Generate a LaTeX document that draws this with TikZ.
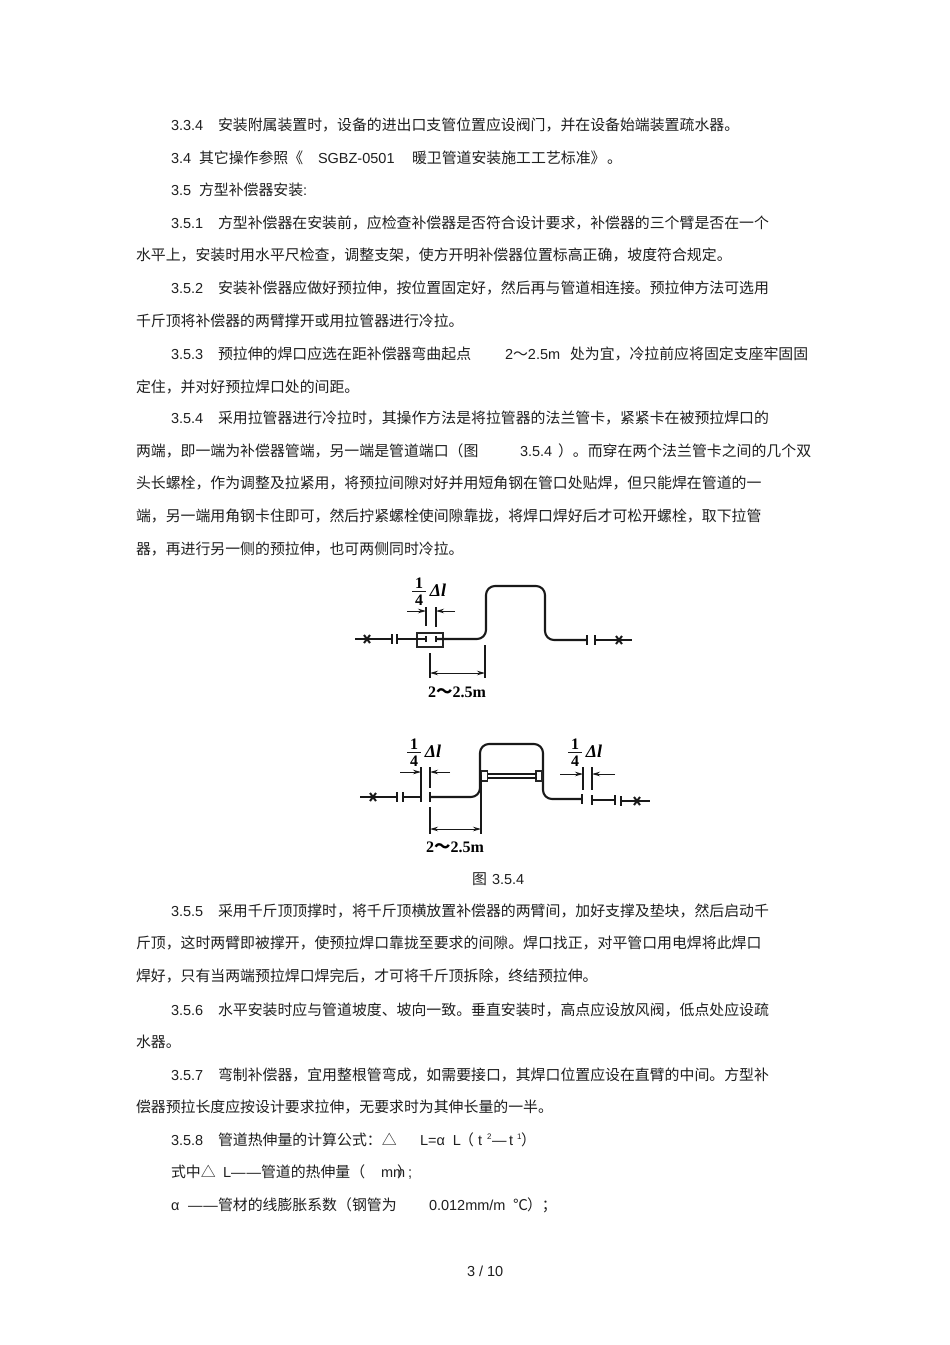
\documentclass[tikz,border=0pt]{standalone}
\usepackage{fontspec}
\setmainfont{Liberation Sans}
\newfontfamily\cjk[Scale=1.027]{Noto Sans CJK SC}
\newfontfamily\dserif{Liberation Serif}
\newcommand{\zh}[1]{{\cjk #1}}
\usetikzlibrary{arrows.meta}
\tikzset{
  txt/.style={anchor=base west,inner sep=0pt,outer sep=0pt,text=black!88,font=\fontsize{14.5}{16}\selectfont},
  dimtxt/.style={anchor=center,inner sep=0pt,outer sep=0pt,font=\dserif\bfseries\fontsize{16}{16}\selectfont},
  pipe/.style={line width=2.1pt,black!90,rounded corners=9pt},
  thinl/.style={line width=1.1pt,black!90},
  medl/.style={line width=1.5pt,black!90},
  dimarrow/.style={line width=1pt,black!90,-{Stealth[length=8pt,width=4.5pt]}},
  dimboth/.style={line width=1pt,black!90,{Stealth[length=8pt,width=4.5pt]}-{Stealth[length=8pt,width=4.5pt]}},
  blockbox/.style={draw=black!85,line width=1.1pt,fill=white,inner sep=0pt,outer sep=0pt}
}
\newcommand{\TT}[4]{\node[txt] (#1) at (#2,#3+5) {#4};}
\newcommand{\xmk}[3]{\coordinate (#1) at (#2,#3);
  \draw[line width=2pt,black!90] ([shift={(-3,-4)}]#1) -- ([shift={(3,4)}]#1) ([shift={(-3,4)}]#1) -- ([shift={(3,-4)}]#1);}
\newcommand{\tk}[2]{\draw[thinl] (#1,#2-5) -- (#1,#2+5);}
\newcommand{\tks}[2]{\draw[thinl] (#1,#2-3) -- (#1,#2+3);}
\newcommand{\frc}[3]{\node[dimtxt] (#1a) at (#2,#3-8) {1};
  \node[dimtxt] (#1b) at (#2,#3+9) {4};
  \coordinate (#1l) at (#2-7,#3); \coordinate (#1r) at (#2+7,#3);
  \draw[line width=1pt,black!90] (#1l) -- (#1r);
  \node[dimtxt,anchor=center] (#1c) at (#2+19,#3-1) {\itshape\fontsize{18}{18}\selectfont Δl};}
\begin{document}
\begin{tikzpicture}[x=1pt,y=-1pt]
\useasboundingbox (0,0) rectangle (950,1345);
\fill[white] (0,0) rectangle (950,1345);
% body text
\TT{a1}{171}{125}{3.3.4}\TT{a2}{218}{125}{\zh{安装附属装置时，设备的进出口支管位置应设阀门，并在设备始端装置疏水器。}}
\TT{b1}{171}{158}{3.4}\TT{b2}{199}{158}{\zh{其它操作参照《}}\TT{b3}{318}{158}{SGBZ-0501}\TT{b4}{412}{158}{\zh{暖卫管道安装施工工艺标准》}}\TT{b5}{607}{158}{\zh{。}}
\TT{c1}{171}{190}{3.5}\TT{c2}{199}{190}{\zh{方型补偿器安装}:}
\TT{d1}{171}{223}{3.5.1}\TT{d2}{218}{223}{\zh{方型补偿器在安装前，应检查补偿器是否符合设计要求，补偿器的三个臂是否在一个}}
\TT{d3}{136}{255}{\zh{水平上，安装时用水平尺检查，调整支架，使方开明补偿器位置标高正确，坡度符合规定。}}
\TT{e1}{171}{288}{3.5.2}\TT{e2}{218}{288}{\zh{安装补偿器应做好预拉伸，按位置固定好，然后再与管道相连接。预拉伸方法可选用}}
\TT{e3}{136}{321}{\zh{千斤顶将补偿器的两臂撑开或用拉管器进行冷拉。}}
\TT{f1}{171}{354}{3.5.3}\TT{f2}{218}{354}{\zh{预拉伸的焊口应选在距补偿器弯曲起点}}\TT{f3}{505}{354}{2\zh{～}2.5m}\TT{f4}{570}{354}{\zh{处为宜，冷拉前应将固定支座牢固固}}
\TT{f5}{136}{387}{\zh{定住，并对好预拉焊口处的间距。}}
\TT{g1}{171}{418}{3.5.4}\TT{g2}{218}{418}{\zh{采用拉管器进行冷拉时，其操作方法是将拉管器的法兰管卡，紧紧卡在被预拉焊口的}}
\TT{g3}{136}{451}{\zh{两端，即一端为补偿器管端，另一端是管道端口（图}}\TT{g4}{520}{451}{3.5.4}\TT{g5}{558}{451}{\zh{）。而穿在两个法兰管卡之间的几个双}}
\TT{g6}{136}{483}{\zh{头长螺栓，作为调整及拉紧用，将预拉间隙对好并用短角钢在管口处贴焊，但只能焊在管道的一}}
\TT{g7}{136}{516}{\zh{端，另一端用角钢卡住即可，然后拧紧螺栓使间隙靠拢，将焊口焊好后才可松开螺栓，取下拉管}}
\TT{g8}{136}{549}{\zh{器，再进行另一侧的预拉伸，也可两侧同时冷拉。}}
\TT{cap1}{472}{879}{\zh{图}}\TT{cap2}{492}{879}{3.5.4}
\TT{h1}{171}{911}{3.5.5}\TT{h2}{218}{911}{\zh{采用千斤顶顶撑时，将千斤顶横放置补偿器的两臂间，加好支撑及垫块，然后启动千}}
\TT{h3}{136}{943}{\zh{斤顶，这时两臂即被撑开，使预拉焊口靠拢至要求的间隙。焊口找正，对平管口用电焊将此焊口}}
\TT{h4}{136}{976}{\zh{焊好，只有当两端预拉焊口焊完后，才可将千斤顶拆除，终结预拉伸。}}
\TT{i1}{171}{1010}{3.5.6}\TT{i2}{218}{1010}{\zh{水平安装时应与管道坡度、坡向一致。垂直安装时，高点应设放风阀，低点处应设疏}}
\TT{i3}{136}{1042}{\zh{水器。}}
\TT{j1}{171}{1075}{3.5.7}\TT{j2}{218}{1075}{\zh{弯制补偿器，宜用整根管弯成，如需要接口，其焊口位置应设在直臂的中间。方型补}}
\TT{j3}{136}{1107}{\zh{偿器预拉长度应按设计要求拉伸，无要求时为其伸长量的一半。}}
\TT{k1}{171}{1140}{3.5.8}\TT{k2}{218}{1140}{\zh{管道热伸量的计算公式：△}}\TT{k3}{420}{1140}{L=α\ \ L}\TT{k4}{459}{1140}{\zh{（}}\TT{k5}{478}{1140}{t}\TT{k6}{487}{1134}{\fontsize{8}{9}\selectfont 2}\TT{k7}{492}{1140}{—}\TT{k8}{509}{1140}{t}\TT{k9}{517}{1134}{\fontsize{8}{9}\selectfont 1}\TT{k10}{521}{1140}{\zh{）}}
\TT{l1}{171}{1172}{\zh{式中△}}\TT{l2}{223}{1172}{L—\hspace{1pt}—}\TT{l3}{261}{1172}{\zh{管道的热伸量（}}\TT{l4}{381}{1172}{mm}\TT{l5}{397}{1172}{\zh{）}}\TT{l6}{408}{1172}{;}
\TT{m1}{171}{1205}{α}\TT{m2}{188}{1205}{—\hspace{1pt}—}\TT{m3}{218}{1205}{\zh{管材的线膨胀系数（钢管为}}\TT{m4}{429}{1205}{0.012mm/m}\TT{m5}{513}{1205}{\zh{℃}}\TT{m6}{527}{1205}{\zh{）；}}
\TT{pg}{467}{1271}{3 / 10}
% ---------- figure 1
\xmk{x1}{367}{639}\xmk{x2}{619}{640}
\draw[medl] (355,639) -- (392,639); \tk{392}{639}
\tk{397}{639}
\node[blockbox,minimum width=26pt,minimum height=14pt] (box1) at (430,640) {};
\draw[medl] (397,639) -- (426,639); \tks{426}{639}
\tks{436}{639}
\draw[pipe] (436,639) -- (486,639) -- (486,586) -- (545,586) -- (545,640) -- (587,640);
\tk{587}{640}
\tk{595}{640}
\draw[medl] (595,640) -- (632,640);
% dim 1/4
\draw[thinl] (426,607) -- (426,626);
\draw[thinl] (436,607) -- (436,627);
\coordinate (d1a) at (407,611); \coordinate (d1b) at (426,611);
\coordinate (d1c) at (455,611); \coordinate (d1d) at (436,611);
\draw[dimarrow] (d1a) -- (d1b);
\draw[dimarrow] (d1c) -- (d1d);
\frc{fa}{419}{591}
% dim length
\coordinate (l1a) at (430,673); \coordinate (l1b) at (485,673);
\draw[thinl] (430,653) -- (430,678);
\draw[thinl] (485,645) -- (485,678);
\draw[dimboth] (l1a) -- (l1b);
\node[dimtxt] (t1) at (457,692) {2\zh{～}2.5m};
% ---------- figure 2
\xmk{x3}{373}{797}\xmk{x4}{637}{801}
\draw[medl] (360,797) -- (397,797); \tk{397}{797}
\tk{403}{797}
\draw[medl] (403,797) -- (421,797);
\draw[thinl] (421,767) -- (421,802);
\draw[thinl] (430,767) -- (430,788);
\draw[thinl] (430,792) -- (430,802);
\draw[pipe] (430,797) -- (480,797) -- (480,744) -- (543,744) -- (543,799) -- (582,799);
\tk{582}{799}
\tk{592}{800}
\draw[medl] (592,800) -- (615,800); \tk{615}{800}
\tk{621}{801}
\draw[medl] (621,801) -- (650,801);
\node[blockbox,minimum width=6pt,minimum height=10pt] (bk1) at (484.5,776) {};
\node[blockbox,minimum width=6pt,minimum height=10pt] (bk2) at (539,776) {};
\draw[thinl] (bk1.east) ++(0,-2) -- ++(49,0);
\draw[thinl] (bk1.east) ++(0,2) -- ++(49,0);
% dims
\coordinate (d2a) at (400,772); \coordinate (d2b) at (421,772);
\coordinate (d2c) at (450,772); \coordinate (d2d) at (430,772);
\draw[dimarrow] (d2a) -- (d2b);
\draw[dimarrow] (d2c) -- (d2d);
\frc{fb}{414}{752}
\draw[thinl] (583,767) -- (583,790);
\draw[thinl] (592,767) -- (592,790);
\coordinate (d3a) at (560,774); \coordinate (d3b) at (583,774);
\coordinate (d3c) at (615,774); \coordinate (d3d) at (592,774);
\draw[dimarrow] (d3a) -- (d3b);
\draw[dimarrow] (d3c) -- (d3d);
\frc{fc}{575}{752}
\coordinate (l2a) at (430,829); \coordinate (l2b) at (481,829);
\draw[thinl] (430,807) -- (430,834);
\draw[thinl] (481,775) -- (481,834);
\draw[dimboth] (l2a) -- (l2b);
\node[dimtxt] (t2) at (455,847) {2\zh{～}2.5m};
\end{tikzpicture}
\end{document}
